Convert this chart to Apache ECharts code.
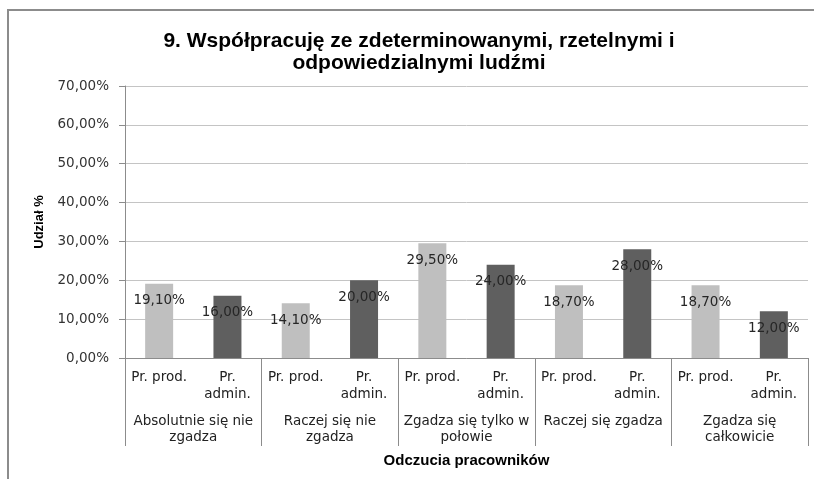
<!DOCTYPE html>
<html>
<head>
<meta charset="utf-8">
<script src="https://cdn.jsdelivr.net/npm/echarts@6/dist/echarts.min.js"></script>
<style>
html, body { margin: 0; padding: 0; background: #fff; overflow: hidden; width: 814px; height: 479px; }
#main { position: absolute; left: 0; top: 0; width: 814px; height: 479px; }
#frameTop { position: absolute; left: 7px; top: 9px; width: 807px; height: 2px; background: #8c8c8c; }
#frameLeft { position: absolute; left: 7px; top: 9px; width: 2px; height: 470px; background: #8c8c8c; }
</style>
</head>
<body>
<div id="main"></div>
<div id="frameTop"></div>
<div id="frameLeft"></div>
<script>
// kategorie (poziom wewnętrzny i grupy)
var innerCats = ['Pr. prod.', 'Pr.\nadmin.', 'Pr. prod.', 'Pr.\nadmin.', 'Pr. prod.', 'Pr.\nadmin.',
	'Pr. prod.', 'Pr.\nadmin.', 'Pr. prod.', 'Pr.\nadmin.'];
var groups = ['Absolutnie się nie\nzgadza', 'Raczej się nie\nzgadza', 'Zgadza się tylko w\npołowie',
	'Raczej się zgadza', 'Zgadza się\ncałkowicie'];
// udział %
var values = [19.1, 16.0, 14.1, 20.0, 29.5, 24.0, 18.7, 28.0, 18.7, 12.0];
var yTicks = [0, 10, 20, 30, 40, 50, 60, 70];

var fmtPct = function (v) {
	return Number(v).toFixed(2).replace('.', ',') + '%';
};

var myChart = echarts.init(document.getElementById('main'));

var option = {
	backgroundColor: '#fff',
	animation: false,
	title: {
		text: '9. Współpracuję ze zdeterminowanymi, rzetelnymi i\nodpowiedzialnymi ludźmi',
		left: 414,
		top: 25,
		textAlign: 'center',
		textStyle: {
			fontFamily: 'Liberation Sans',
			fontWeight: 'bold',
			fontSize: 21,
			lineHeight: 22,
			color: '#000'
		}
	},
	grid: {
		left: 125,
		right: 6,
		top: 86,
		bottom: 121,
		containLabel: false
	},
	xAxis: [{
		type: 'category',
		data: innerCats,
		position: 'bottom',
		axisLine: { lineStyle: { color: '#8c8c8c' } },
		axisTick: { show: false },
		axisLabel: {
			interval: 0,
			margin: 11,
			fontFamily: 'DejaVu Sans',
			fontSize: 13.5,
			lineHeight: 17,
			color: '#222'
		}
	}, {
		type: 'category',
		data: groups,
		position: 'bottom',
		axisLine: { show: false },
		axisTick: { show: true, length: 88, interval: 0, lineStyle: { color: '#8c8c8c' } },
		axisLabel: {
			interval: 0,
			margin: 55,
			fontFamily: 'DejaVu Sans',
			fontSize: 13.5,
			lineHeight: 16,
			color: '#222'
		},
		name: 'Odczucia pracowników',
		nameLocation: 'middle',
		nameGap: 95,
		nameTextStyle: {
			fontFamily: 'Liberation Sans',
			fontWeight: 'bold',
			fontSize: 15,
			color: '#000'
		}
	}],
	yAxis: {
		type: 'value',
		min: yTicks[0],
		max: yTicks[yTicks.length - 1],
		interval: 10,
		name: 'Udział %',
		nameLocation: 'middle',
		nameGap: 79,
		nameTextStyle: {
			fontFamily: 'Liberation Sans',
			fontWeight: 'bold',
			fontSize: 13,
			color: '#000'
		},
		axisLine: { show: true, lineStyle: { color: '#8c8c8c' } },
		axisTick: { show: true, length: 6, lineStyle: { color: '#8c8c8c' } },
		splitLine: { lineStyle: { color: '#c4c4c4' } },
		axisLabel: {
			margin: 16,
			fontFamily: 'DejaVu Sans',
			fontSize: 13.5,
			color: '#333',
			formatter: fmtPct
		}
	},
	series: [{
		type: 'bar',
		xAxisIndex: 0,
		data: values,
		barWidth: 28,
		itemStyle: {
			color: function (p) {
				return p.dataIndex % 2 ? '#5f5f5f' : '#bfbfbf';
			}
		},
		label: {
			show: true,
			position: 'insideTop',
			distance: 10,
			fontFamily: 'DejaVu Sans',
			fontSize: 13.5,
			color: '#262626',
			formatter: function (p) { return fmtPct(p.value); }
		}
	}]
};

myChart.setOption(option);
</script>
</body>
</html>
